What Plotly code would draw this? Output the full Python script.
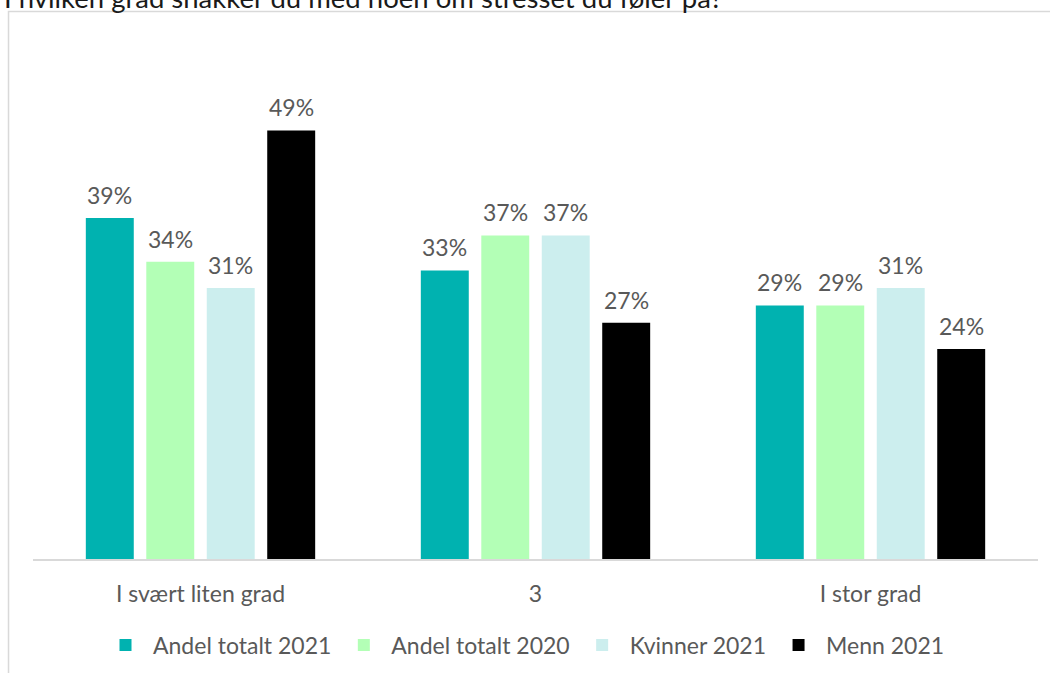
import plotly.graph_objects as go

# Survey responses: share of respondents per answer category
categories = ["I svært liten grad", "3", "I stor grad"]
series_names = ["Andel totalt 2021", "Andel totalt 2020", "Kvinner 2021", "Menn 2021"]
andel_2021 = [39, 33, 29]
andel_2020 = [34, 37, 29]
kvinner_2021 = [31, 37, 31]
menn_2021 = [49, 27, 24]
series_values = [andel_2021, andel_2020, kvinner_2021, menn_2021]
colors = ["#00B2B0", "#B3FFB6", "#CCEEEE", "#000000"]

title_text = "I hvilken grad snakker du med noen om stresset du føler på?"

W, H = 1050, 673
ML, MR, MT, MB = 32.5, 12, 77.5, 114
BARGAP = 0.278
GROUPGAP = 0.207
FONT = "Lato"
TXT = "#595959"
FS = 23
TITLE_FS = 27.5

fig = go.Figure()
for name, vals, col in zip(series_names, series_values, colors):
    fig.add_trace(go.Bar(
        x=categories, y=vals, name=name,
        marker=dict(color=col, line=dict(width=0)),
        hoverinfo="skip",
    ))

# Value labels above each bar
n = len(series_names)
slot = (1 - BARGAP) / n
annotations = []
for k, vals in enumerate(series_values):
    for i, v in enumerate(vals):
        annotations.append(dict(
            x=i + (k - (n - 1) / 2) * slot, y=v, xref="x", yref="y",
            text=f"{v}%", showarrow=False, yanchor="bottom", yshift=7,
            font=dict(family=FONT, size=FS, color=TXT),
        ))

plot_w = W - ML - MR
plot_h = H - MT - MB
annotations.append(dict(
    x=(1 - ML) / plot_w, y=(plot_h + MT + 3.5) / plot_h, xref="paper", yref="paper",
    text=title_text, showarrow=False, xanchor="left", yanchor="middle",
    font=dict(family=FONT, size=TITLE_FS, color="#1a1a1a"),
))

# Light frame around the chart area
shapes = [dict(
    type="rect", xref="paper", yref="paper",
    x0=(8 - ML) / plot_w, x1=(W + 20 - ML) / plot_w,
    y0=-(MB + 20) / plot_h, y1=(H - MB - 11) / plot_h,
    line=dict(color="#D9D9D9", width=1.5), fillcolor="rgba(0,0,0,0)", layer="below",
)]

fig.update_layout(
    width=W, height=H,
    margin=dict(l=ML, r=MR, t=MT, b=MB, pad=0, autoexpand=False),
    paper_bgcolor="white", plot_bgcolor="white",
    barmode="group", bargap=BARGAP, bargroupgap=GROUPGAP,
    font=dict(family=FONT, size=FS, color=TXT),
    xaxis=dict(
        showline=True, linecolor="#D9D9D9", linewidth=1.5,
        showgrid=False, ticks="", ticklabelstandoff=14, automargin=False,
        tickfont=dict(family=FONT, size=FS, color=TXT),
    ),
    yaxis=dict(range=[0, 55], visible=False, showgrid=False, automargin=False),
    legend=dict(
        orientation="h", xanchor="left", yanchor="middle",
        xref="container", yref="container",
        x=98 / W, y=1 - 645 / H,
        font=dict(family=FONT, size=FS, color=TXT),
        itemwidth=45, traceorder="normal",
    ),
    annotations=annotations,
    shapes=shapes,
    showlegend=True,
)

fig.write_html("out.html")
